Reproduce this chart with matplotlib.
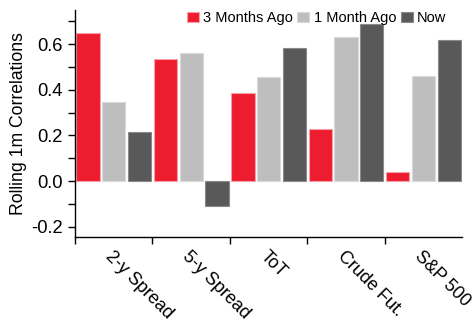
import matplotlib
matplotlib.use("Agg")
import matplotlib.pyplot as plt
import numpy as np
from matplotlib.ticker import MultipleLocator, FixedLocator, NullFormatter

plt.rcParams['font.family'] = ['Liberation Sans', 'DejaVu Sans']

categories = ["2-y Spread", "5-y Spread", "ToT", "Crude Fut.", "S&P 500"]
three_months_ago = [0.648, 0.535, 0.388, 0.229, 0.038]
one_month_ago = [0.346, 0.563, 0.455, 0.630, 0.461]
now = [0.216, -0.111, 0.585, 0.690, 0.617]
series_names = ["3 Months Ago", "1 Month Ago", "Now"]
colors = ["#ED1C2E", "#BEBEBE", "#595959"]
edge_colors = ["#F5A0A8", "#DADADA", "#8A8A8A"]

fig = plt.figure(figsize=(4.75, 3.22), dpi=100)
ax = fig.add_axes([0.158, 0.264, 0.815, 0.705])

x = np.arange(len(categories))
step = 0.332
width = 0.30
for i, (vals, name) in enumerate(zip([three_months_ago, one_month_ago, now], series_names)):
    ax.bar(x + (i - 1) * step, vals, width=width, color=colors[i],
           edgecolor=edge_colors[i], linewidth=0.8, label=name)

ax.set_xlim(-0.5, 4.5)
ax.set_ylim(-0.245, 0.75)

ax.spines['top'].set_visible(False)
ax.spines['right'].set_visible(False)
ax.spines['left'].set_linewidth(1.0)
ax.spines['bottom'].set_linewidth(1.0)

ax.yaxis.set_major_locator(MultipleLocator(0.2))
ax.yaxis.set_minor_locator(MultipleLocator(0.1))
ax.set_yticks([-0.2, 0.0, 0.2, 0.4, 0.6])
ax.set_yticklabels(["-0.2", "0.0", "0.2", "0.4", "0.6"])
ax.tick_params(axis='y', which='both', direction='out', length=5, width=1, labelsize=13.2, pad=4)

ax.xaxis.set_major_locator(FixedLocator([-0.5, 0.5, 1.5, 2.5, 3.5]))
ax.xaxis.set_major_formatter(NullFormatter())
ax.xaxis.set_minor_locator(FixedLocator(list(x)))
ax.set_xticklabels(categories, minor=True, rotation=-45, ha='left', rotation_mode='anchor')
ax.tick_params(axis='x', which='major', direction='out', length=5, width=1)
ax.tick_params(axis='x', which='minor', length=0, labelsize=13, pad=8)

ax.set_ylabel("Rolling 1m Correlations", fontsize=12.7, labelpad=2.5)

ax.legend(loc='upper right', bbox_to_anchor=(0.959, 0.995), ncol=3, frameon=False,
          fontsize=10.5, handlelength=0.82, handleheight=0.75, handletextpad=0.3,
          columnspacing=0.3, borderaxespad=0.0, borderpad=0.0)

fig.savefig("out.png", dpi=100)
